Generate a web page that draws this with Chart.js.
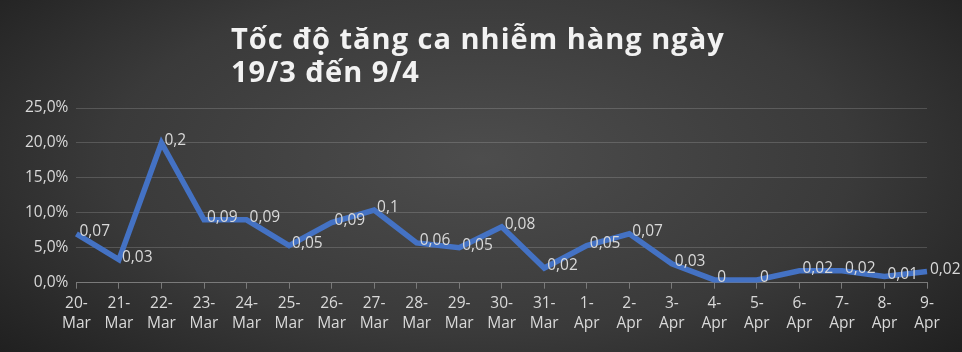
<!DOCTYPE html>
<html>
<head>
<meta charset="utf-8">
<script src="https://cdn.jsdelivr.net/npm/chart.js@4"></script>
<style>
  html, body { margin: 0; padding: 0; }
  body {
    width: 962px; height: 352px; overflow: hidden; position: relative;
    background: radial-gradient(ellipse 70% 90% at 50% 45%, #4d4d4d 0%, #3a3a3a 55%, #1c1c1c 100%);
  }
  #title {
    position: absolute; left: 231px; top: 21px;
    font-family: "Open Sans", sans-serif; font-weight: 700; font-size: 29px;
    line-height: 33px; color: #f2f2f2; letter-spacing: 1px;
  }
  #wrap { position: absolute; left: 0; top: 0; width: 962px; height: 352px; }
</style>
</head>
<body>
<div id="wrap"><canvas id="rateChart"></canvas></div>
<div id="title">Tốc độ tăng ca nhiễm hàng ngày<br>19/3 đến 9/4</div>
<script>
// ngày (hai dòng: số / tháng)
const days = ['20', '21', '22', '23', '24', '25', '26', '27', '28', '29', '30', '31',
              '1', '2', '3', '4', '5', '6', '7', '8', '9'];
const months = ['Mar', 'Mar', 'Mar', 'Mar', 'Mar', 'Mar', 'Mar', 'Mar', 'Mar', 'Mar', 'Mar', 'Mar',
                'Apr', 'Apr', 'Apr', 'Apr', 'Apr', 'Apr', 'Apr', 'Apr', 'Apr'];
// tốc độ tăng (%)
const growthRate = [7.0, 3.3, 20.0, 9.0, 9.0, 5.3, 8.6, 10.4, 5.7, 5.0, 8.0, 2.1,
                    5.3, 7.0, 2.7, 0.4, 0.4, 1.7, 1.7, 0.9, 1.6];
const yTicks = [0, 5, 10, 15, 20, 25];

const labels = days.map((d, i) => [d + '-', months[i]]);
const textColor = '#d9d9d9';
const fontFamily = '"Open Sans", sans-serif';

function pointLabel(v) { // 0.07 -> "0,07"
    return String(Number((v / 100).toFixed(2))).replace('.', ',');
}

// vẽ nhãn giá trị bên phải mỗi điểm
const valueLabels = {
    id: 'valueLabels',
    afterDatasetsDraw(chart) {
        const ctx = chart.ctx;
        const meta = chart.getDatasetMeta(0);
        ctx.save();
        ctx.font = '15.5px ' + fontFamily;
        ctx.fillStyle = textColor;
        ctx.textAlign = 'left';
        ctx.textBaseline = 'middle';
        meta.data.forEach((pt, i) => {
            ctx.fillText(pointLabel(growthRate[i]), pt.x + 3, pt.y - 2);
        });
        ctx.restore();
    }
};

new Chart(document.getElementById('rateChart'), {
    type: 'line',
    data: {
        labels: labels,
        datasets: [{
            data: growthRate,
            borderColor: '#4472c4',
            borderWidth: 5.5,
            pointRadius: 0,
            tension: 0,
            borderJoinStyle: 'miter',
            fill: false
        }]
    },
    options: {
        responsive: true,
        maintainAspectRatio: false,
        animation: false,
        layout: { padding: { top: 108, right: 35, bottom: 13, left: 17 } },
        plugins: {
            legend: { display: false },
            tooltip: { enabled: false }
        },
        scales: {
            x: {
                offset: false,
                grid: {
                    drawOnChartArea: false,
                    drawTicks: true,
                    tickLength: 6,
                    color: '#7a7a7a'
                },
                border: { color: '#7a7a7a', width: 1 },
                ticks: {
                    color: textColor,
                    font: { family: fontFamily, size: 15.5, lineHeight: 1.3 },
                    maxRotation: 0,
                    autoSkip: false,
                    padding: 5
                }
            },
            y: {
                min: 0,
                max: 25,
                afterBuildTicks: axis => { axis.ticks = yTicks.map(v => ({ value: v })); },
                grid: { color: 'rgba(255,255,255,0.16)', drawTicks: false },
                border: { display: false },
                ticks: {
                    color: textColor,
                    font: { family: fontFamily, size: 15.5 },
                    padding: 8,
                    callback: v => v.toFixed(1).replace('.', ',') + '%'
                }
            }
        }
    },
    plugins: [valueLabels]
});
</script>
</body>
</html>
